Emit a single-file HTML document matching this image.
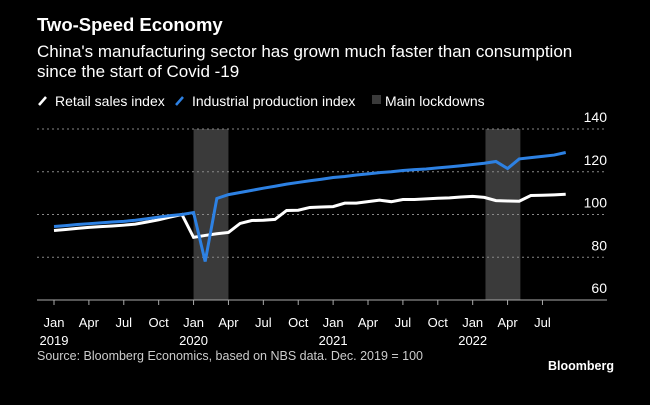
<!DOCTYPE html>
<html><head><meta charset="utf-8"><style>
html,body{margin:0;padding:0;background:#000;}
body{width:650px;height:400px;overflow:hidden;font-family:"Liberation Sans",sans-serif;color:#fff;}
</style></head><body>
<svg width="650" height="400" viewBox="0 0 650 400">
<rect width="650" height="400" fill="#000"/>
<text x="37" y="31" font-size="18.5" font-weight="bold" fill="#fff">Two-Speed Economy</text>
<text x="37" y="57" font-size="17" fill="#fff">China's manufacturing sector has grown much faster than consumption</text>
<text x="37" y="77" font-size="17" fill="#fff">since the start of Covid -19</text>
<g>
<g><line x1="39" y1="105" x2="46" y2="97" stroke="#fff" stroke-width="2.5"/><text x="55" y="106" font-size="14" fill="#fff">Retail sales index</text></g>
<g><line x1="176" y1="105" x2="183" y2="97" stroke="#2d81e3" stroke-width="2.5"/><text x="192" y="106" font-size="14" fill="#fff">Industrial production index</text></g>
<g><rect x="372" y="95" width="9" height="9" fill="#3a3a3a"/><text x="385" y="106" font-size="14" fill="#fff">Main lockdowns</text></g>
</g>
<g id="plot"></g>
<text x="37" y="360" font-size="12.5" fill="#ccc">Source: Bloomberg Economics, based on NBS data. Dec. 2019 = 100</text>
<text x="614" y="370" font-size="12.5" font-weight="bold" fill="#fff" text-anchor="end">Bloomberg</text>
</svg>
<script>
const retail=[92.5,93,93.5,94,94.3,94.6,95,95.5,96.5,97.5,98.8,100,89.3,90.2,91,91.6,95.8,97.2,97.3,97.7,101.9,102,103.3,103.5,103.7,105.3,105.3,106,106.7,106,107,107,107.3,107.6,107.8,108.2,108.5,108,106.5,106.3,106.2,108.9,109,109.2,109.5];
const industrial=[94.4,94.8,95.3,95.7,96.1,96.5,96.8,97.3,98,98.8,99.5,100,100.9,78,107.5,109.3,110.3,111.3,112.3,113.2,114.2,115,115.8,116.5,117.3,117.8,118.5,119,119.6,120,120.6,121,121.3,121.8,122.3,122.8,123.4,124,124.8,121.5,126,126.6,127.2,127.8,129];
const yTicks=[60,80,100,120,140];
const xTickLabels=["Jan","Apr","Jul","Oct","Jan","Apr","Jul","Oct","Jan","Apr","Jul","Oct","Jan","Apr","Jul"];
const yearLabels=[["2019",0],["2020",12],["2021",24],["2022",36]];
const lockdowns=[[12,15],[37.1,40.1]];
const NS="http://www.w3.org/2000/svg";
const plot=document.getElementById('plot');
const X=m=>54+m*11.63;
const Y=v=>300-(v-60)*2.1375;
function mk(tag,attrs,parent){const e=document.createElementNS(NS,tag);for(const k in attrs)e.setAttribute(k,attrs[k]);(parent||plot).appendChild(e);return e;}
lockdowns.forEach(l=>{const r=mk('rect',{x:X(l[0]),y:Y(140),width:X(l[1])-X(l[0]),height:Y(60)-Y(140),fill:'#3a3a3a'});

});
yTicks.forEach(v=>{if(v>60){const g=mk('line',{x1:37,x2:607,y1:Y(v),y2:Y(v),stroke:'#888','stroke-width':1,'stroke-dasharray':'2,3'});

}
const t=mk('text',{x:607,y:Y(v)-7,'font-size':14,fill:'#fff','text-anchor':'end'});t.textContent=v;

});
const ax=mk('line',{x1:37,x2:607,y1:300,y2:300,stroke:'#aaa','stroke-width':1});


xTickLabels.forEach((s,i)=>{const m=i*3;mk('line',{x1:X(m),x2:X(m),y1:300,y2:305,stroke:'#aaa'});
const t=mk('text',{x:X(m),y:327,'font-size':13,fill:'#fff','text-anchor':'middle'});t.textContent=s;

});
yearLabels.forEach(([s,m])=>{const t=mk('text',{x:X(m),y:345,'font-size':13,fill:'#fff','text-anchor':'middle'});t.textContent=s;

});
function line(data,color,name){const p=mk('polyline',{points:data.map((v,i)=>X(i)+','+Y(v)).join(' '),fill:'none',stroke:color,'stroke-width':3,'stroke-linejoin':'miter'});

}
line(retail,'#fff','retail-sales-line');
line(industrial,'#2d81e3','industrial-production-line');
</script>
</body></html>
